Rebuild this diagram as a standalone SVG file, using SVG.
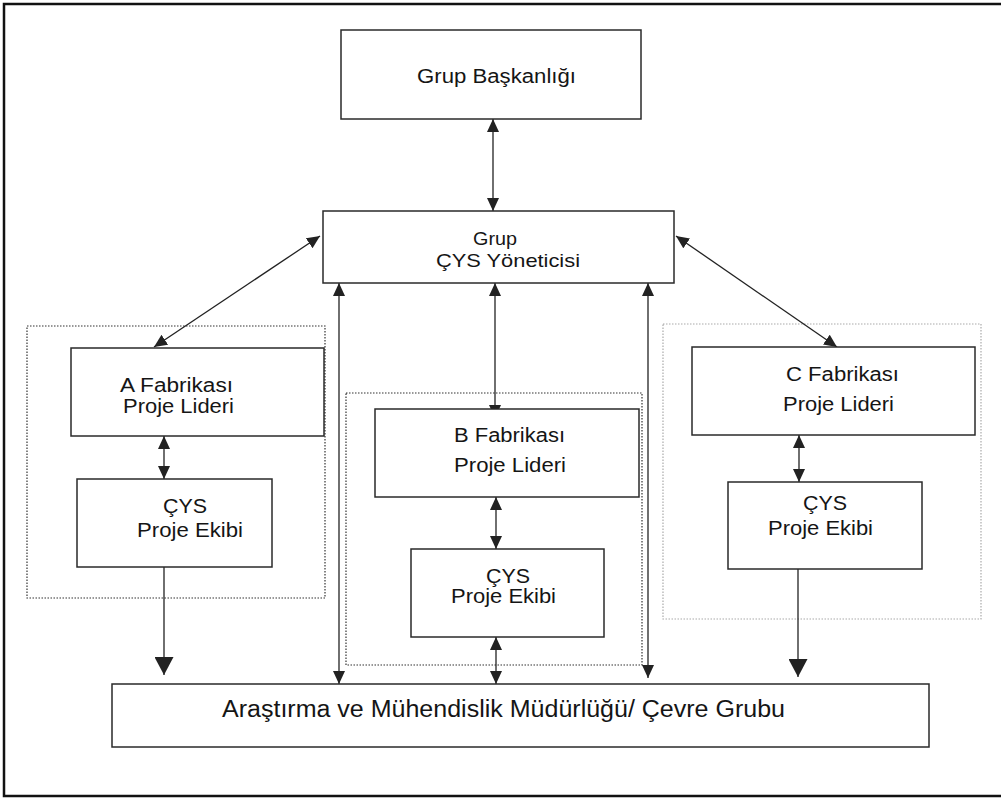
<svg xmlns="http://www.w3.org/2000/svg" width="1001" height="798" viewBox="0 0 1001 798">
<style>
.box{fill:#fff;stroke:#2a2a2a;stroke-width:1.5}
.grp{fill:none;stroke:#333;stroke-width:1.2;stroke-dasharray:1.5 1.5}
.grp.light{stroke:#aaa}
.ln{stroke:#222;stroke-width:1.3;fill:none}
.t{font-family:"Liberation Sans",Arial,sans-serif;font-size:20px;fill:#151515}
.ts{font-size:19px}
.tb{font-size:23px}
</style>
<defs>
<marker id="ah" markerUnits="userSpaceOnUse" markerWidth="13" markerHeight="12" refX="13" refY="6" orient="auto-start-reverse" viewBox="0 0 13 12">
<path d="M0,0 L13,6 L0,12 z" fill="#222"/>
</marker>
<marker id="ahb" markerUnits="userSpaceOnUse" markerWidth="18" markerHeight="19" refX="18" refY="9.5" orient="auto" viewBox="0 0 18 19">
<path d="M0,0 L18,9.5 L0,19 z" fill="#222"/>
</marker>
</defs>
<rect width="1001" height="798" fill="#fff"/>
<path d="M1010,4 H4 V796 H1010" fill="none" stroke="#111" stroke-width="2.5"/>

<g id="groups">
<rect class="grp" x="27" y="326" width="298" height="272"/>
<rect class="grp" x="346" y="393" width="296" height="272"/>
<rect class="grp light" x="663" y="324" width="318" height="295"/>
</g>

<g id="connectors">
<line class="ln" x1="493" y1="119" x2="493" y2="211" marker-start="url(#ah)" marker-end="url(#ah)"/>
<line class="ln" x1="320" y1="236" x2="154" y2="347" marker-start="url(#ah)" marker-end="url(#ah)"/>
<line class="ln" x1="676" y1="236" x2="837" y2="347" marker-start="url(#ah)" marker-end="url(#ah)"/>
<line class="ln" x1="339" y1="283" x2="339" y2="684" marker-start="url(#ah)" marker-end="url(#ah)"/>
<line class="ln" x1="648" y1="283" x2="648" y2="678" marker-start="url(#ah)" marker-end="url(#ah)"/>
<line class="ln" x1="495" y1="283" x2="495" y2="418" marker-start="url(#ah)" marker-end="url(#ah)"/>
<line class="ln" x1="164" y1="436" x2="164" y2="479" marker-start="url(#ah)" marker-end="url(#ah)"/>
<line class="ln" x1="496" y1="497" x2="496" y2="549" marker-start="url(#ah)" marker-end="url(#ah)"/>
<line class="ln" x1="799" y1="435" x2="799" y2="482" marker-start="url(#ah)" marker-end="url(#ah)"/>
<line class="ln" x1="496" y1="637" x2="496" y2="684" marker-start="url(#ah)" marker-end="url(#ah)"/>
<line class="ln" x1="164" y1="562" x2="164" y2="675" stroke-width="1.6" marker-end="url(#ahb)"/>
<line class="ln" x1="798" y1="569" x2="798" y2="677" stroke-width="1.6" marker-end="url(#ahb)"/>
</g>

<g id="n-baskanlik">
<rect class="box" x="341" y="30" width="300" height="89"/>
<text class="t" x="417" y="83" textLength="159" lengthAdjust="spacingAndGlyphs">Grup Başkanlığı</text>
</g>
<g id="n-yonetici">
<rect class="box" x="323" y="211" width="351" height="72"/>
<text class="t ts" x="473" y="245" textLength="44" lengthAdjust="spacingAndGlyphs">Grup</text>
<text class="t ts" x="436" y="267" textLength="144" lengthAdjust="spacingAndGlyphs">ÇYS Yöneticisi</text>
</g>
<g id="n-a-lider">
<rect class="box" x="71" y="348" width="253" height="88"/>
<text class="t" x="120" y="392" textLength="113" lengthAdjust="spacingAndGlyphs">A Fabrikası</text>
<text class="t" x="123" y="413" textLength="111" lengthAdjust="spacingAndGlyphs">Proje Lideri</text>
</g>
<g id="n-a-ekip">
<rect class="box" x="77" y="479" width="195" height="88"/>
<text class="t" x="163" y="513" textLength="44" lengthAdjust="spacingAndGlyphs">ÇYS</text>
<text class="t" x="137" y="537" textLength="106" lengthAdjust="spacingAndGlyphs">Proje Ekibi</text>
</g>
<g id="n-b-lider">
<rect class="box" x="375" y="409" width="264" height="88"/>
<text class="t" x="454" y="442" textLength="111" lengthAdjust="spacingAndGlyphs">B Fabrikası</text>
<text class="t" x="454" y="472" textLength="112" lengthAdjust="spacingAndGlyphs">Proje Lideri</text>
</g>
<g id="n-b-ekip">
<rect class="box" x="411" y="549" width="193" height="88"/>
<text class="t" x="486" y="583" textLength="44" lengthAdjust="spacingAndGlyphs">ÇYS</text>
<text class="t" x="451" y="603" textLength="105" lengthAdjust="spacingAndGlyphs">Proje Ekibi</text>
</g>
<g id="n-c-lider">
<rect class="box" x="692" y="347" width="283" height="88"/>
<text class="t" x="786" y="381" textLength="113" lengthAdjust="spacingAndGlyphs">C Fabrikası</text>
<text class="t" x="783" y="411" textLength="111" lengthAdjust="spacingAndGlyphs">Proje Lideri</text>
</g>
<g id="n-c-ekip">
<rect class="box" x="728" y="482" width="194" height="87"/>
<text class="t" x="803" y="510" textLength="44" lengthAdjust="spacingAndGlyphs">ÇYS</text>
<text class="t" x="768" y="535" textLength="105" lengthAdjust="spacingAndGlyphs">Proje Ekibi</text>
</g>
<g id="n-arge">
<rect class="box" x="112" y="684" width="817" height="63"/>
<text class="t tb" x="222" y="717" textLength="563" lengthAdjust="spacingAndGlyphs">Araştırma ve Mühendislik Müdürlüğü/ Çevre Grubu</text>
</g>
</svg>
